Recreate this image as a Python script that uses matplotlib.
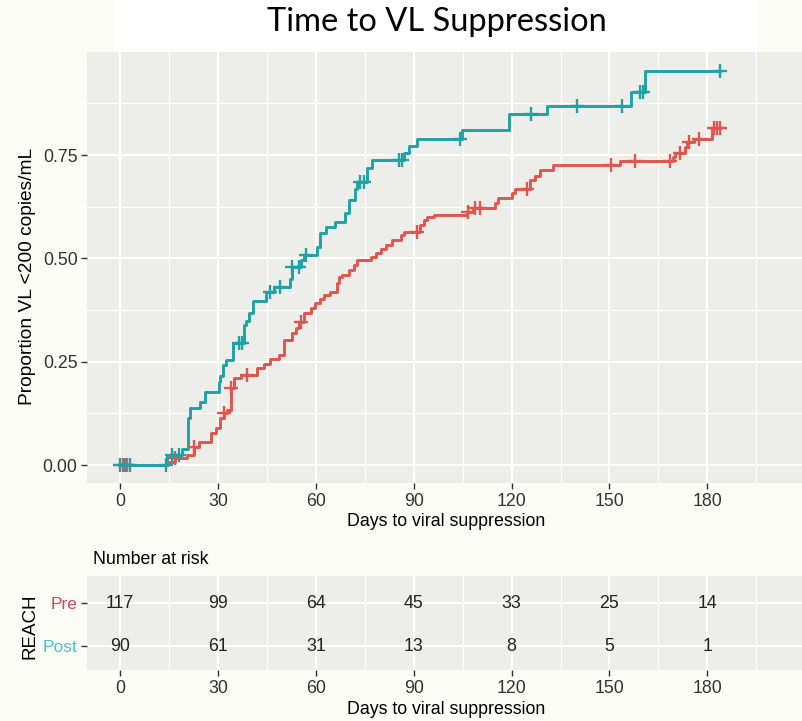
import numpy as np
import matplotlib
matplotlib.use("Agg")
import matplotlib.pyplot as plt
from matplotlib.patches import Rectangle
from matplotlib.ticker import FixedLocator

# ---------------- data ----------------
title = "Time to VL Suppression"
groups = ["Pre", "Post"]

post_times = [14.3, 19.1, 20.8, 21.6, 24.6, 26.2, 30.3, 30.8, 31.6, 32.4, 34.6,
              38.0, 38.5, 39.5, 40.8, 44.9, 47.1, 52.2, 52.8, 55.6, 56.3, 60.4,
              61.2, 63.0, 66.0, 69.1, 70.1, 72.1, 72.7, 75.7, 77.3, 86.9, 88.5,
              91.0, 104.8, 119.1, 130.8, 156.6, 160.9]
post_surv = [0.024, 0.040, 0.114, 0.138, 0.152, 0.177, 0.201, 0.215, 0.242,
             0.254, 0.296, 0.339, 0.349, 0.367, 0.397, 0.419, 0.431, 0.449,
             0.480, 0.496, 0.508, 0.528, 0.561, 0.577, 0.589, 0.609, 0.641,
             0.669, 0.686, 0.718, 0.738, 0.754, 0.772, 0.790, 0.811, 0.849,
             0.869, 0.903, 0.954]
post_censor = [0.0, 1.7, 3.1, 14.0, 16.0, 18.1, 36.4, 37.4, 45.9, 49.0, 52.8,
               54.8, 57.1, 73.7, 74.7, 85.4, 86.4, 104.1, 125.9, 140.0, 153.8,
               159.4, 160.2, 183.9]

pre_times = [14.6, 17.0, 20.6, 22.7, 24.2, 27.8, 29.3, 30.8, 31.8, 32.7, 33.9,
             34.9, 37.0, 42.0, 44.1, 46.1, 48.7, 50.2, 52.8, 53.8, 54.8, 56.3,
             58.4, 59.9, 61.4, 62.5, 64.5, 66.5, 67.0, 68.1, 70.1, 71.6, 72.7,
             76.8, 78.4, 79.9, 81.5, 83.5, 86.1, 87.1, 92.0, 93.1, 94.1, 96.1,
             106.3, 108.3, 114.9, 115.9, 120.1, 121.1, 125.7, 127.2, 128.7,
             132.8, 153.3, 169.6, 170.1, 173.2, 173.9, 176.0, 181.4]
pre_surv = [0.008, 0.017, 0.024, 0.044, 0.056, 0.077, 0.089, 0.113, 0.126,
            0.133, 0.186, 0.210, 0.218, 0.236, 0.244, 0.256, 0.266, 0.302,
            0.319, 0.331, 0.347, 0.367, 0.379, 0.391, 0.403, 0.411, 0.419,
            0.440, 0.456, 0.460, 0.472, 0.484, 0.496, 0.504, 0.512, 0.522,
            0.532, 0.544, 0.556, 0.564, 0.581, 0.593, 0.601, 0.605, 0.613,
            0.621, 0.633, 0.645, 0.657, 0.669, 0.689, 0.700, 0.714, 0.726,
            0.736, 0.745, 0.754, 0.770, 0.782, 0.788, 0.815]
pre_censor = [1.0, 2.2, 17.0, 22.7, 31.8, 33.9, 38.8, 55.5, 90.9, 106.8, 108.8,
              110.4, 124.7, 150.4, 157.8, 168.6, 171.6, 174.5, 177.5, 181.9,
              182.9, 183.9]
end_time = 183.9

risk_times = [0, 30, 60, 90, 120, 150, 180]
risk_pre = [117, 99, 64, 45, 33, 25, 14]
risk_post = [90, 61, 31, 13, 8, 5, 1]

x_ticks = [0, 30, 60, 90, 120, 150, 180]
x_minor = [15, 45, 75, 105, 135, 165, 195]
y_ticks = [0, 0.25, 0.5, 0.75]
y_minor = [0.125, 0.375, 0.625, 0.875]
y_tick_labels = ["0.00", "0.25", "0.50", "0.75"]

# ---------------- style ----------------
W, H = 802, 721
RED = "#E1554F"
TEAL = "#1FA2A6"
RED_LBL = "#D2455A"
TEAL_LBL = "#4CC3CB"
PANEL = "#EDEDEA"
TXT = "#333333"
FONT = ["Liberation Sans", "DejaVu Sans"]
plt.rcParams["font.family"] = FONT
FS = 12.8

fig = plt.figure(figsize=(W / 100, H / 100), dpi=100)
fig.patch.set_facecolor("#FCFCF7")
fig.add_artist(Rectangle((114 / W, 1 - 52 / H), (758 - 114) / W, 52 / H,
                         transform=fig.transFigure, facecolor="white",
                         edgecolor="none", zorder=0))
fig.text(437 / W, 1 - 22 / H, title, ha="center", va="center",
         fontsize=23.5, family=["Lato", "DejaVu Sans"], color="black")


def px_axes(left, top, right, bottom):
    return [left / W, 1 - bottom / H, (right - left) / W, (bottom - top) / H]


def style_axes(ax):
    ax.set_facecolor(PANEL)
    for s in ax.spines.values():
        s.set_visible(False)
    ax.grid(which="major", color="white", lw=1.3, zorder=0)
    ax.grid(which="minor", color="white", lw=0.7, zorder=0)
    ax.set_axisbelow(True)
    ax.tick_params(which="major", length=4, width=1, color=TXT, labelsize=FS,
                   labelcolor=TXT, pad=3)
    ax.tick_params(which="minor", length=0)


def step_value(times, surv, t):
    i = np.searchsorted(times, t, side="right")
    return 0.0 if i == 0 else surv[i - 1]


# ---------------- main KM panel ----------------
ax = fig.add_axes(px_axes(87.3, 51.7, 802, 483.3))
style_axes(ax)
ax.set_xlim(-10, 209)
ax.set_ylim(-0.044, 1.0)
ax.xaxis.set_major_locator(FixedLocator(x_ticks))
ax.xaxis.set_minor_locator(FixedLocator(x_minor))
ax.yaxis.set_major_locator(FixedLocator(y_ticks))
ax.yaxis.set_minor_locator(FixedLocator(y_minor))
ax.set_yticklabels(y_tick_labels)
ax.set_xticklabels([str(v) for v in x_ticks])

for times, surv, cens, col in [(pre_times, pre_surv, pre_censor, RED),
                               (post_times, post_surv, post_censor, TEAL)]:
    xs = np.r_[0.0, times, end_time]
    ys = np.r_[0.0, surv, surv[-1]]
    ax.step(xs, ys, where="post", color=col, lw=2.1, zorder=3)
    cy = [step_value(np.asarray(times), surv, t) for t in cens]
    ax.plot(cens, cy, ls="none", marker="+", ms=10, mew=1.7, color=col, zorder=4)

fig.text(446 / W, 1 - 522 / H, "Days to viral suppression", ha="center",
         va="center", fontsize=FS, color="black")
fig.text(28 / W, 1 - 276 / H, "Proportion VL <200 copies/mL", ha="center",
         va="center", rotation=90, fontsize=13.8, color="black")

# ---------------- risk table ----------------
tb = fig.add_axes(px_axes(87.3, 576, 802, 670))
style_axes(tb)
tb.set_xlim(-10, 209)
tb.set_ylim(0.44, 2.64)
tb.xaxis.set_major_locator(FixedLocator(x_ticks))
tb.xaxis.set_minor_locator(FixedLocator(x_minor))
tb.yaxis.set_major_locator(FixedLocator([2, 1]))
tb.set_xticklabels([str(v) for v in x_ticks])
tb.set_yticklabels(groups)
for lbl, c in zip(tb.get_yticklabels(), [RED_LBL, TEAL_LBL]):
    lbl.set_color(c)
    lbl.set_fontsize(12.5)

for t, a, b in zip(risk_times, risk_pre, risk_post):
    tb.text(t, 2, str(a), ha="center", va="center", fontsize=FS, color="#222222")
    tb.text(t, 1, str(b), ha="center", va="center", fontsize=FS, color="#222222")

fig.text(93 / W, 1 - 560 / H, "Number at risk", ha="left", va="center",
         fontsize=FS, color="black")
fig.text(30 / W, 1 - 626 / H, "REACH", ha="center", va="center", rotation=90,
         fontsize=13.5, color="black")
fig.text(446 / W, 1 - 709 / H, "Days to viral suppression", ha="center",
         va="center", fontsize=FS, color="black")

fig.savefig("out.png", dpi=100, facecolor=fig.get_facecolor())
